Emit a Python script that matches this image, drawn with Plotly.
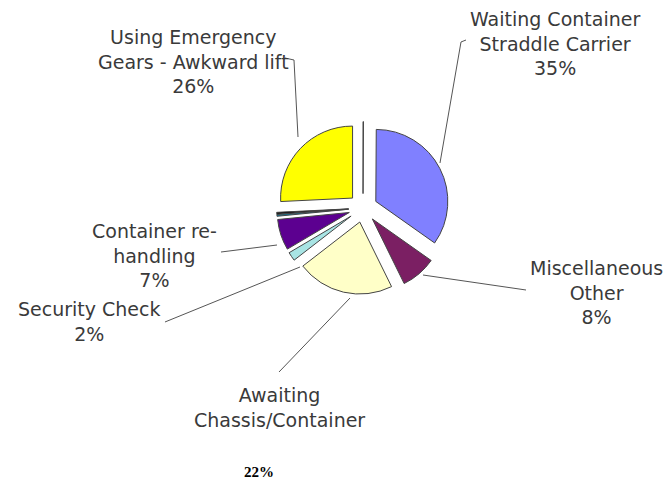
import plotly.graph_objects as go

# The page body has an 8px default margin, so the figure is sized to fill the
# remaining window and reference pixel positions are shifted by that margin.
PAGE_OFF = 8
W, H = 671 - PAGE_OFF, 480 - PAGE_OFF

# ---- data ----
categories = ["Gap", "Waiting Container Straddle Carrier", "Miscellaneous Other",
              "Awaiting Chassis/Container", "Security Check", "Container re-handling",
              "Unlabelled A", "Unlabelled B", "Using Emergency Gears - Awkward lift"]
values = [0.1, 35, 8, 22, 2, 7, 0.4, 0.4, 26]
display_names = ["", "Waiting Container<br>Straddle Carrier", "Miscellaneous<br>Other",
                 "Awaiting<br>Chassis/Container", "Security Check", "Container re-<br>handling",
                 "", "", "Using Emergency<br>Gears - Awkward lift"]

# ---- styles ----
colors = ["#FFFFFF", "#8080FF", "#7B1F63", "#FFFFC8", "#A8E4E4", "#5C0090",
          "#1080A0", "#000000", "#FFFF00"]

total = sum(values)
pct = [f"{round(v / total * 100)}%" for v in values]


def px(x, y):
    """reference-page pixel -> paper coordinates"""
    return (x - PAGE_OFF) / W, 1 - (y - PAGE_OFF) / H


cx, cy, r, pull = 363, 208, 72, 0.2
half = r * (1 + pull)
x0, y1 = px(cx - half, cy - half)
x1, y0 = px(cx + half, cy + half)

fig = go.Figure(go.Pie(
    labels=categories, values=values, sort=False, direction="clockwise", rotation=0,
    marker=dict(colors=colors, line=dict(color="#444444", width=1)),
    pull=[pull] * len(values), textinfo="none", hoverinfo="label+percent",
    showlegend=False,
    domain=dict(x=[x0, x1], y=[y0, y1]),
))

label_pos = {1: (555, 43), 2: (596, 292), 3: (279, 407), 4: (89, 321),
             5: (154, 255), 8: (193, 61)}
annotations = []
for i, (x, y) in label_pos.items():
    txt = display_names[i] if i == 3 else display_names[i] + "<br>" + pct[i]
    ax, ay = px(x, y)
    annotations.append(dict(x=ax, y=ay, xref="paper", yref="paper", text=txt,
                            showarrow=False, xanchor="center", yanchor="middle",
                            align="center",
                            font=dict(family="DejaVu Sans", size=19, color="#3a3a3a")))
# separated percentage for Awaiting Chassis/Container
ax, ay = px(259, 472)
annotations.append(dict(x=ax, y=ay, xref="paper", yref="paper", text="<b>" + pct[3] + "</b>",
                        showarrow=False, xanchor="center", yanchor="middle",
                        font=dict(family="Liberation Serif", size=15, color="#000000")))

leaders = [
    [(466, 40), (461, 42), (440, 163)],
    [(285, 58), (294, 60), (298, 137)],
    [(526, 290), (423, 275)],
    [(279, 372), (350, 298)],
    [(221, 252), (277, 245)],
    [(165, 322), (300, 267)],
]
shapes = []
for pts in leaders:
    p = [px(x, y) for x, y in pts]
    path = "M " + " L ".join(f"{a:.5f},{b:.5f}" for a, b in p)
    shapes.append(dict(type="path", path=path, xref="paper", yref="paper",
                       line=dict(color="#555555", width=1)))

fig.update_layout(width=W, height=H, margin=dict(l=0, r=0, t=0, b=0),
                  paper_bgcolor="white", plot_bgcolor="white",
                  annotations=annotations, shapes=shapes)

fig.write_html("out.html")
